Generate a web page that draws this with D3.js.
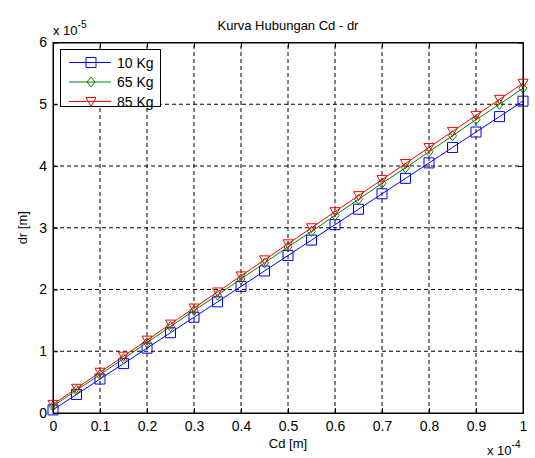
<!DOCTYPE html>
<html>
<head>
<meta charset="utf-8">
<script src="https://cdn.jsdelivr.net/npm/d3@7"></script>
<style>
  body { margin: 0; background: #fff; }
  text { font-family: "Liberation Sans", Arial, sans-serif; fill: #000; }
</style>
</head>
<body>
<div id="graph"></div>
<script>
// x values in units of 1e-4, y values in units of 1e-5
const cd = [0, 0.05, 0.1, 0.15, 0.2, 0.25, 0.3, 0.35, 0.4, 0.45, 0.5,
            0.55, 0.6, 0.65, 0.7, 0.75, 0.8, 0.85, 0.9, 0.95, 1];
const dr10 = [0.05, 0.30, 0.55, 0.80, 1.05, 1.30, 1.55, 1.80, 2.05, 2.30, 2.55,
              2.80, 3.05, 3.30, 3.55, 3.80, 4.05, 4.30, 4.55, 4.80, 5.05];
const dr65 = [0.11, 0.37, 0.62, 0.88, 1.14, 1.40, 1.66, 1.91, 2.17, 2.43, 2.69,
              2.94, 3.20, 3.46, 3.72, 3.97, 4.23, 4.49, 4.75, 5.00, 5.26];
const dr85 = [0.14, 0.40, 0.66, 0.92, 1.18, 1.44, 1.70, 1.96, 2.22, 2.48, 2.74,
              3.00, 3.26, 3.52, 3.78, 4.04, 4.30, 4.56, 4.82, 5.08, 5.34];
const seriesNames = ["10 Kg", "65 Kg", "85 Kg"];
const xTicks = [0, 0.1, 0.2, 0.3, 0.4, 0.5, 0.6, 0.7, 0.8, 0.9, 1];
const yTicks = [0, 1, 2, 3, 4, 5, 6];

const width = 535, height = 458;
const margin = { top: 42.5, right: 12, bottom: 45, left: 53 };

const svg = d3.select("#graph").append("svg")
  .attr("width", width).attr("height", height);

const x = d3.scaleLinear().domain([0, 1]).range([margin.left, width - margin.right]);
const y = d3.scaleLinear().domain([0, 6]).range([height - margin.bottom, margin.top]);

// grid
svg.append("g").selectAll("line").data(xTicks.slice(1, -1)).enter().append("line")
  .attr("x1", d => x(d)).attr("x2", d => x(d))
  .attr("y1", y(0)).attr("y2", y(6))
  .attr("stroke", "#000").attr("stroke-width", 1).attr("stroke-dasharray", "4,3");
svg.append("g").selectAll("line").data(yTicks.slice(1, -1)).enter().append("line")
  .attr("y1", d => y(d)).attr("y2", d => y(d))
  .attr("x1", x(0)).attr("x2", x(1))
  .attr("stroke", "#000").attr("stroke-width", 1).attr("stroke-dasharray", "4,3");

// axes (ticks inside, on all four sides)
const fs = "14px";
svg.append("g").attr("transform", `translate(0,${y(0)})`)
  .call(d3.axisBottom(x).tickValues(xTicks).tickSizeInner(-5).tickSizeOuter(0).tickPadding(8).tickFormat(d3.format("")));
svg.append("g").attr("transform", `translate(${x(0)},0)`)
  .call(d3.axisLeft(y).tickValues(yTicks).tickSizeInner(-5).tickSizeOuter(0).tickPadding(6).tickFormat(d3.format("d")));
svg.append("g").attr("transform", `translate(0,${y(6)})`)
  .call(d3.axisTop(x).tickValues(xTicks).tickSizeInner(-5).tickSizeOuter(0).tickFormat(""));
svg.append("g").attr("transform", `translate(${x(1)},0)`)
  .call(d3.axisRight(y).tickValues(yTicks).tickSizeInner(-5).tickSizeOuter(0).tickFormat(""));
svg.selectAll(".domain").attr("stroke", "#000");
svg.selectAll(".tick line").attr("stroke", "#000");
svg.selectAll(".tick text").attr("font-size", fs).attr("font-family", "Liberation Sans, Arial, sans-serif");

// series
const series = [
  { name: seriesNames[0], vals: dr10, colour: "#0000ff", marker: "square" },
  { name: seriesNames[1], vals: dr65, colour: "#008000", marker: "diamond" },
  { name: seriesNames[2], vals: dr85, colour: "#ff0000", marker: "triangleDown" }
];

function markerPath(type) {
  if (type === "square") return "M-5,-5H5V5H-5Z";
  if (type === "diamond") return "M0,-5L4,0L0,5L-4,0Z";
  return "M-5,-4H5L0,5Z";
}

const line = d3.line().x((d, i) => x(cd[i])).y(d => y(d));
series.forEach(s => {
  svg.append("path").datum(s.vals)
    .attr("d", line).attr("fill", "none")
    .attr("stroke", s.colour).attr("stroke-width", 1);
  svg.append("g").selectAll("path").data(s.vals).enter().append("path")
    .attr("transform", (d, i) => `translate(${x(cd[i])},${y(d)})`)
    .attr("d", markerPath(s.marker))
    .attr("fill", "none").attr("stroke", s.colour).attr("stroke-width", 1);
});

// box on top
svg.append("rect")
  .attr("x", x(0)).attr("y", y(6))
  .attr("width", x(1) - x(0)).attr("height", y(0) - y(6))
  .attr("fill", "none").attr("stroke", "#000");

// legend
const lg = svg.append("g");
lg.append("rect").attr("x", 60.5).attr("y", 49.5).attr("width", 100).attr("height", 57)
  .attr("fill", "#fff").attr("stroke", "#000");
series.forEach((s, i) => {
  const ly = 62.5 + i * 19.5;
  lg.append("line").attr("x1", 69).attr("x2", 111).attr("y1", ly).attr("y2", ly)
    .attr("stroke", s.colour);
  lg.append("path").attr("transform", `translate(91,${ly})`).attr("d", markerPath(s.marker))
    .attr("fill", "none").attr("stroke", s.colour);
  lg.append("text").attr("x", 117).attr("y", ly + 5).attr("font-size", "14px").text(s.name);
});

// titles and labels
svg.append("text").attr("x", x(0.5)).attr("y", 30).attr("text-anchor", "middle")
  .attr("font-size", "13px").text("Kurva Hubungan Cd - dr");
svg.append("text").attr("x", x(0.5)).attr("y", 448).attr("text-anchor", "middle")
  .attr("font-size", "13px").text("Cd [m]");
svg.append("text").attr("transform", `translate(27,${(y(0) + y(6)) / 2}) rotate(-90)`)
  .attr("text-anchor", "middle").attr("font-size", "13px").text("dr [m]");

// exponent labels
const e1 = svg.append("text").attr("x", 53).attr("y", 35).attr("font-size", "13px");
e1.append("tspan").text("x 10");
e1.append("tspan").attr("dy", -7).attr("font-size", "10px").text("-5");
const e2 = svg.append("text").attr("x", 487).attr("y", 455).attr("font-size", "13px");
e2.append("tspan").text("x 10");
e2.append("tspan").attr("dy", -7).attr("font-size", "10px").text("-4");
</script>
</body>
</html>
